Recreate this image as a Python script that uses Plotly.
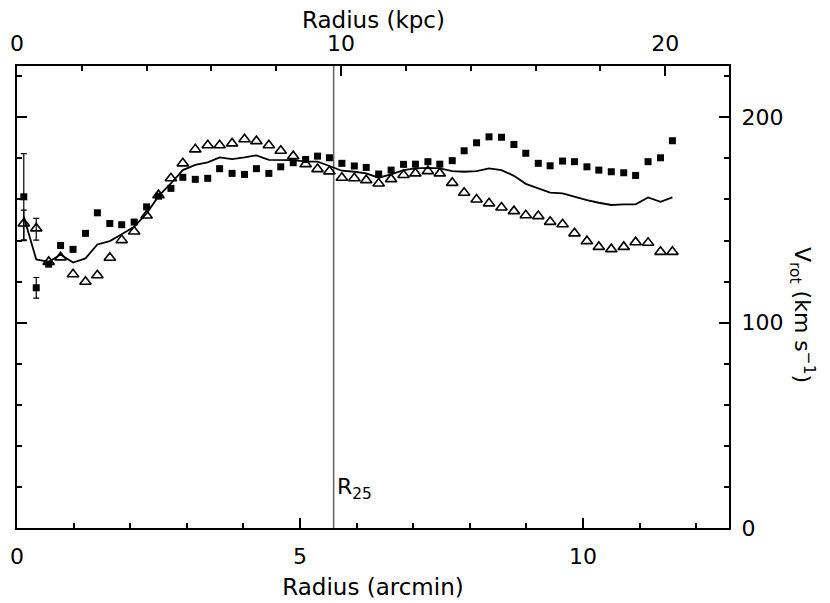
import plotly.graph_objects as go

# radius in arcmin, shared by all three curves
radius_arcmin = [0.12, 0.34, 0.56, 0.77, 0.99, 1.21, 1.42, 1.64, 1.85, 2.07,
                 2.29, 2.50, 2.72, 2.93, 3.15, 3.37, 3.58, 3.80, 4.02, 4.23,
                 4.45, 4.66, 4.88, 5.10, 5.31, 5.52, 5.74, 5.96, 6.17, 6.39,
                 6.61, 6.83, 7.04, 7.26, 7.47, 7.69, 7.90, 8.12, 8.34, 8.56,
                 8.78, 8.99, 9.21, 9.42, 9.64, 9.85, 10.07, 10.28, 10.50, 10.72,
                 10.93, 11.15, 11.37, 11.58]

# filled squares
vrot_squares = [161.3, 117.0, 128.5, 137.6, 135.7, 143.5, 153.5, 148.3, 147.7, 149.0,
                156.4, 161.6, 165.4, 170.8, 169.8, 170.3, 175.0, 172.7, 172.2, 175.0,
                172.7, 175.9, 177.9, 179.5, 181.1, 180.3, 177.6, 176.3, 175.6, 172.4,
                174.3, 177.1, 177.2, 178.4, 177.2, 178.9, 183.7, 187.6, 190.5, 190.3,
                186.8, 182.5, 177.6, 176.4, 178.7, 178.4, 175.9, 174.3, 173.5, 173.0,
                171.7, 178.4, 180.3, 188.6]

# open triangles
vrot_triangles = [148.3, 145.9, 129.6, 131.8, 123.6, 119.9, 123.1, 131.6, 140.2, 144.4,
                  152.2, 162.1, 170.3, 177.6, 184.4, 186.4, 186.4, 187.3, 189.3, 188.4,
                  186.4, 183.7, 181.1, 177.2, 174.8, 173.7, 170.6, 170.3, 169.4, 167.8,
                  169.9, 171.9, 172.7, 173.8, 172.7, 168.1, 163.3, 160.0, 158.1, 156.1,
                  154.3, 152.3, 151.9, 149.1, 147.9, 143.5, 139.7, 136.9, 135.8, 136.9,
                  139.2, 138.9, 134.5, 134.5]

# solid line (mean curve)
vrot_mean = [151.6, 130.8, 129.6, 133.2, 129.3, 131.3, 138.1, 139.7, 143.1, 146.7,
             153.2, 161.6, 167.8, 174.3, 176.8, 178.1, 180.5, 179.7, 180.5, 181.5,
             179.3, 179.2, 179.2, 178.4, 178.4, 176.3, 174.0, 173.5, 172.7, 170.6,
             172.2, 174.3, 175.1, 175.4, 175.1, 173.8, 173.5, 173.8, 175.1, 174.3,
             171.5, 167.6, 165.4, 163.3, 163.0, 161.3, 159.7, 158.4, 157.3, 157.6,
             157.6, 161.0, 158.9, 161.0]

# error bars on the two innermost points
err_squares = [21.0, 5.0]
err_tri_plus = [6.5, 4.9]
err_tri_minus = [8.3, 5.7]

r25_arcmin = 5.595
arcmin_range = [0, 12.58]
kpc_range = [0, 21.97]
vrot_range = [0, 225]

FONT = "DejaVu Sans"
BLACK = "black"

fig = go.Figure()

fig.add_shape(type="line", x0=r25_arcmin, x1=r25_arcmin, xref="x",
              y0=0, y1=1, yref="paper",
              line=dict(color="#606060", width=1.5), layer="below")

fig.add_trace(go.Scatter(
    x=radius_arcmin, y=vrot_mean, mode="lines",
    line=dict(color=BLACK, width=1.8), showlegend=False))

fig.add_trace(go.Scatter(
    x=radius_arcmin[:2], y=vrot_triangles[:2], mode="markers",
    marker=dict(size=0.1, color=BLACK),
    error_y=dict(type="data", array=err_tri_plus, arrayminus=err_tri_minus,
                 color=BLACK, thickness=1.2, width=3),
    showlegend=False))

fig.add_trace(go.Scatter(
    x=radius_arcmin[:2], y=vrot_squares[:2], mode="markers",
    marker=dict(size=0.1, color=BLACK),
    error_y=dict(type="data", array=err_squares, color=BLACK,
                 thickness=1.2, width=3),
    showlegend=False))

fig.add_trace(go.Scatter(
    x=radius_arcmin, y=vrot_triangles, mode="markers",
    marker=dict(symbol="triangle-up-open", size=10, color=BLACK,
                line=dict(width=1.6, color=BLACK)),
    showlegend=False))

fig.add_trace(go.Scatter(
    x=radius_arcmin, y=vrot_squares, mode="markers",
    marker=dict(symbol="square", size=7, color=BLACK, line=dict(width=0)),
    showlegend=False))

# dummy trace to activate the top (kpc) axis
fig.add_trace(go.Scatter(x=kpc_range, y=[None, None], xaxis="x2",
                         mode="markers", showlegend=False, hoverinfo="skip"))

fig.add_annotation(
    x=r25_arcmin, y=19, xref="x", yref="y", xanchor="left", yanchor="middle",
    xshift=1, text="R<sub>25</sub>", showarrow=False,
    font=dict(family=FONT, size=22, color=BLACK))

# top axis title
fig.add_annotation(
    x=0.5, y=1, xref="paper", yref="paper", yanchor="middle", yshift=46,
    text="Radius (kpc)", showarrow=False,
    font=dict(family=FONT, size=23, color=BLACK))

# right axis title, reading top to bottom
fig.add_annotation(
    x=1.127, y=0.46, xref="paper", yref="paper", textangle=90,
    text="V<sub>rot</sub> (km s<sup>−1</sup>)", showarrow=False,
    font=dict(family=FONT, size=22, color=BLACK))

# the page body adds an 8 px offset, margins account for it
fig.update_layout(
    width=830, height=603,
    margin=dict(l=9, r=109, t=58, b=83),
    paper_bgcolor="white", plot_bgcolor="white",
    font=dict(family=FONT, size=22, color=BLACK),
    xaxis=dict(
        range=arcmin_range, showgrid=False, zeroline=False, automargin=False,
        showline=True, linecolor=BLACK, linewidth=2,
        ticks="inside", ticklen=10, tickwidth=1.5, tickcolor=BLACK,
        tickvals=[0, 5, 10], ticklabelstandoff=8,
        minor=dict(ticks="inside", ticklen=5, tickwidth=1.5,
                   tickcolor=BLACK, dtick=1),
        title=dict(text="Radius (arcmin)", standoff=10,
                   font=dict(family=FONT, size=23, color=BLACK)),
    ),
    xaxis2=dict(
        range=kpc_range, overlaying="x", side="top", showgrid=False,
        zeroline=False, automargin=False, showline=True, linecolor=BLACK,
        linewidth=2, ticks="inside", ticklen=10, tickwidth=1.5,
        tickcolor=BLACK, tickvals=[0, 10, 20], ticklabelstandoff=4,
        minor=dict(ticks="inside", ticklen=5, tickwidth=1.5,
                   tickcolor=BLACK, dtick=2),
    ),
    yaxis=dict(
        range=vrot_range, side="right", showgrid=False, zeroline=False,
        automargin=False, showline=True, linecolor=BLACK, linewidth=2,
        mirror="ticks", ticks="inside", ticklen=10, tickwidth=1.5,
        tickcolor=BLACK, tickvals=[0, 100, 200], ticklabelstandoff=6,
        minor=dict(ticks="inside", ticklen=5, tickwidth=1.5,
                   tickcolor=BLACK, dtick=20),
    ),
)

fig.write_html("out.html")
